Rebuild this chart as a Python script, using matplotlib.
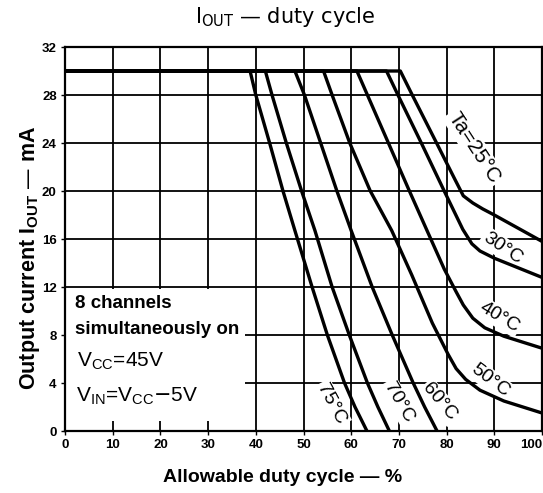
import matplotlib
matplotlib.use("Agg")
import matplotlib.pyplot as plt
from matplotlib.patches import Rectangle

# ---- data ----
duty_75 = [0, 38.8, 40.0, 42.9, 45.7, 48.2, 51.8, 55.0, 58.6, 60.8, 63.3]
iout_75 = [30, 30, 28, 24, 20, 16.7, 12, 8, 4, 2, 0]
duty_70 = [0, 42.0, 43.4, 46.4, 49.6, 52.4, 56.0, 59.6, 63.4, 65.6, 68.0]
iout_70 = [30, 30, 28, 24, 20, 16.7, 12, 8, 4, 2, 0]
duty_60 = [0, 48.2, 50.2, 53.6, 57.0, 60.0, 64.4, 68.6, 73.0, 75.4, 78.0]
iout_60 = [30, 30, 28, 24, 20, 16.7, 12, 8, 4, 2, 0]
duty_50 = [0, 54.2, 56.0, 59.7, 64.0, 68.5, 72.7, 77.0, 80.3, 82.0, 84.0, 87.0, 92.0, 100]
iout_50 = [30, 30, 28, 24, 20, 16.7, 13, 9, 6.4, 5.2, 4.3, 3.4, 2.5, 1.5]
duty_40 = [0, 61.2, 63.4, 67.8, 72.2, 75.9, 79.5, 82.0, 83.5, 85.5, 88.0, 92.0, 100]
iout_40 = [30, 30, 28, 24, 20, 16.7, 13.5, 11.6, 10.5, 9.4, 8.6, 7.9, 6.9]
duty_30 = [0, 67.4, 69.8, 74.7, 79.5, 83.4, 85.3, 87.0, 90.0, 95.0, 100]
iout_30 = [30, 30, 28, 24, 20, 16.8, 15.6, 15.0, 14.4, 13.6, 12.8]
duty_25 = [0, 70.3, 72.8, 77.9, 81.7, 83.5, 85.5, 87.6, 90.0, 95.0, 100]
iout_25 = [30, 30, 28, 24, 21, 19.6, 19.0, 18.5, 18.0, 16.9, 15.8]

curves = [(duty_75, iout_75), (duty_70, iout_70), (duty_60, iout_60),
          (duty_50, iout_50), (duty_40, iout_40), (duty_30, iout_30),
          (duty_25, iout_25)]

curve_labels = ["75°C", "70°C", "60°C", "50°C", "40°C", "30°C", "Ta=25°C"]
label_x = [55.9, 70.0, 78.6, 89.1, 91.0, 91.8, 85.8]
label_y = [2.25, 2.4, 2.4, 4.25, 9.5, 15.25, 23.6]
label_rot = [-62, -60, -50, -37, -31, -34, -57]

x_ticks = [0, 10, 20, 30, 40, 50, 60, 70, 80, 90, 100]
y_ticks = [0, 4, 8, 12, 16, 20, 24, 28, 32]

plt.rcParams['font.family'] = ['Liberation Sans', 'DejaVu Sans']

W, H = 543, 493
fig = plt.figure(figsize=(W / 100, H / 100), dpi=100)
ax = fig.add_axes([65 / W, 1 - 431 / H, (542 - 65) / W, (431 - 47) / H])

ax.set_xlim(0, 100)
ax.set_ylim(0, 32)
ax.set_xticks(x_ticks)
ax.set_yticks(y_ticks)
ax.set_xticklabels([str(v) for v in x_ticks], fontweight='bold', fontsize=9.5)
ax.set_yticklabels([str(v) for v in y_ticks], fontweight='bold', fontsize=9.5)
ax.get_xticklabels()[-1].set_horizontalalignment('right')
ax.tick_params(length=3, width=1, color='black', pad=3)
ax.grid(True, color='black', linewidth=1.3)
for s in ax.spines.values():
    s.set_linewidth(1.6)
    s.set_color('black')

for dx, iy in curves:
    ax.plot(dx, iy, color='black', linewidth=2.4, solid_joinstyle='round',
            solid_capstyle='butt', zorder=3)

for t, x, y, r in zip(curve_labels, label_x, label_y, label_rot):
    ax.text(x, y, t, rotation=r, ha='center', va='center',
            fontsize=15 if t.startswith('Ta') else 14,
            rotation_mode='anchor', zorder=2,
            bbox=dict(boxstyle='square,pad=0.1', facecolor='white', edgecolor='none'))

# blank (white) area behind the condition notes, as in the reference
ax.add_patch(Rectangle((0.003, 0.025), 0.375, 0.345, transform=ax.transAxes,
                       facecolor='white', edgecolor='none', zorder=1.8))

ax.text(2.2, 10.6, "8 channels", fontsize=13.5, fontweight='bold', va='center', ha='left', zorder=2)
ax.text(2.2, 8.5, "simultaneously on", fontsize=13.5, fontweight='bold', va='center', ha='left', zorder=2)
ax.text(2.6, 5.8, r"V$_{\mathregular{CC}}$=45V", fontsize=15, va='center', ha='left', zorder=2)
ax.text(2.4, 2.9, r"V$_{\mathregular{IN}}$=V$_{\mathregular{CC}}$$-$5V", fontsize=15, va='center', ha='left', zorder=2)

fig.text(285 / W, 1 - 17 / H, r"I$_{\mathregular{OUT}}$ — duty cycle", ha='center', va='center',
         fontsize=15, family=['DejaVu Sans'])
fig.text(283 / W, 1 - 478 / H, "Allowable duty cycle — %", ha='center', va='center',
         fontsize=14, fontweight='bold')
fig.text(30 / W, 1 - 258 / H, r"Output current I$_{\mathregular{OUT}}$ — mA", ha='center', va='center',
         rotation=90, fontsize=15.5, fontweight='bold')

fig.savefig("out.png", dpi=100)
